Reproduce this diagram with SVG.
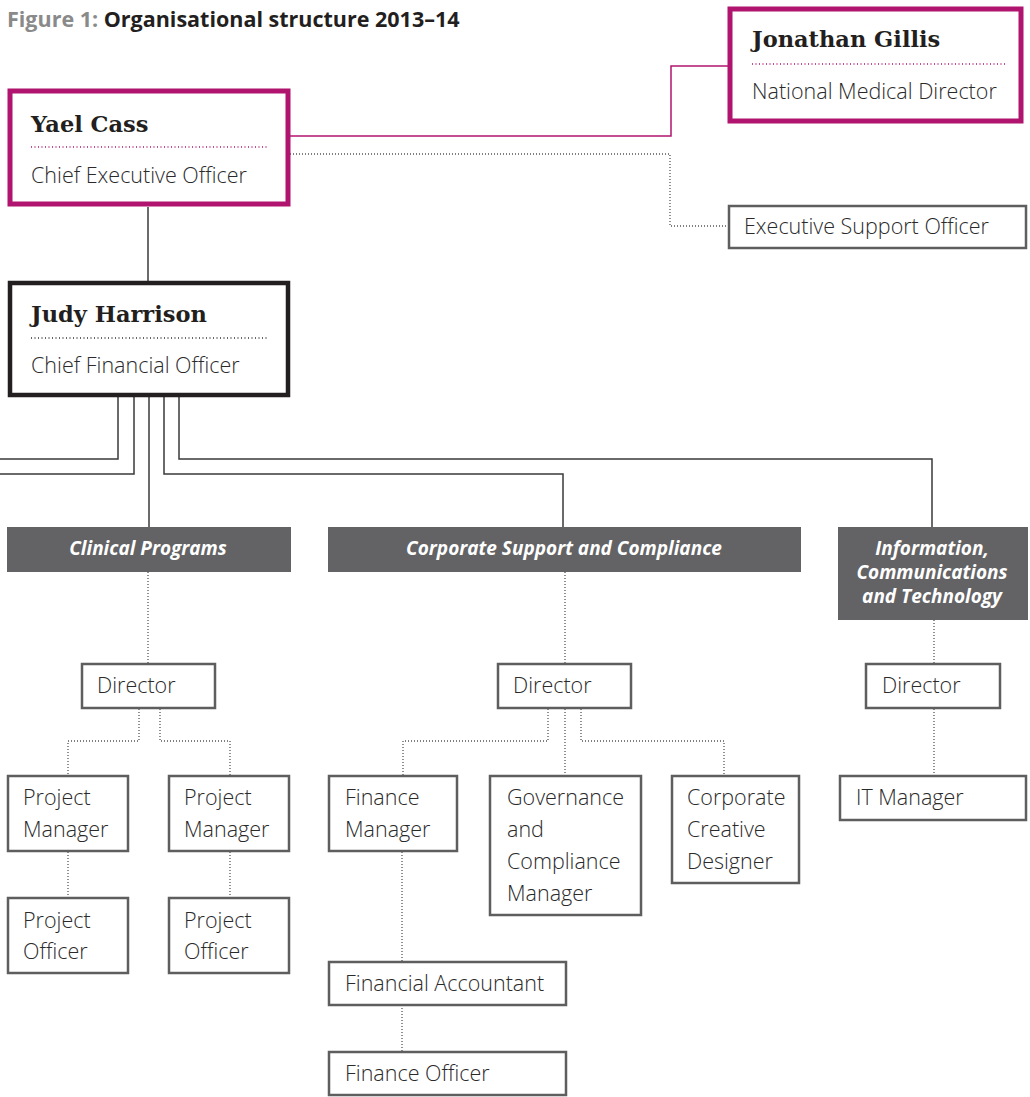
<svg xmlns="http://www.w3.org/2000/svg" width="1030" height="1097" viewBox="0 0 1030 1097">
<style>
  .bg{fill:#ffffff}
  .box{fill:#ffffff;stroke:#5e5e5e;stroke-width:2.5}
  .exec{fill:#ffffff;stroke:#b0146f;stroke-width:5}
  .cfo{fill:#ffffff;stroke:#231f20;stroke-width:4.5}
  .hdr{fill:#636365}
  .name{font-family:"DejaVu Serif","Liberation Serif",serif;font-weight:bold;font-size:22.5px;fill:#231f20}
  .role{font-family:"Open Sans","Noto Sans","Liberation Sans",sans-serif;font-weight:300;font-size:21.5px;fill:#2a2a2a}
  .htxt{font-family:"Open Sans","Noto Sans","Liberation Sans",sans-serif;font-weight:bold;font-style:italic;font-size:19px;fill:#ffffff;text-anchor:middle}
  .title{font-family:"Open Sans","Noto Sans","Liberation Sans",sans-serif;font-weight:bold;font-size:21.5px}
  .solid{fill:none;stroke:#3a3a3a;stroke-width:1.5}
  .mag{fill:none;stroke:#b0146f;stroke-width:1.5}
  .dot{fill:none;stroke:#555555;stroke-width:1.3;stroke-dasharray:1 2}
  .mdot{fill:none;stroke:#b0146f;stroke-width:1.3;stroke-dasharray:1 2.5}
  .kdot{fill:none;stroke:#333333;stroke-width:1.3;stroke-dasharray:1 2.5}
</style>
<rect class="bg" x="0" y="0" width="1030" height="1097"/>
<text class="title" x="7" y="27"><tspan fill="#8a8a8a">Figure 1: </tspan><tspan fill="#231f20">Organisational structure 2013–14</tspan></text>

<g id="connectors">
  <path class="mag" d="M290,136 H671 V66 H728"/>
  <path class="dot" d="M290,154 H670 V226 H728"/>
  <path class="solid" d="M148,207 V281"/>
  <path class="solid" d="M118,397 V459 H0"/>
  <path class="solid" d="M134,397 V474 H0"/>
  <path class="solid" d="M149,397 V527"/>
  <path class="solid" d="M164,397 V474 H563 V527"/>
  <path class="solid" d="M179,397 V459 H932 V527"/>
  <path class="dot" d="M148,572 V663"/>
  <path class="dot" d="M139,709 V741 H68 V775"/>
  <path class="dot" d="M160,709 V741 H230 V775"/>
  <path class="dot" d="M68,852 V897"/>
  <path class="dot" d="M230,852 V897"/>
  <path class="dot" d="M565,572 V663"/>
  <path class="dot" d="M548,709 V741 H403 V775"/>
  <path class="dot" d="M565,709 V775"/>
  <path class="dot" d="M581,709 V741 H724 V775"/>
  <path class="dot" d="M402,852 V961"/>
  <path class="dot" d="M402,1005 V1051"/>
  <path class="dot" d="M934,620 V663"/>
  <path class="dot" d="M934,709 V775"/>
</g>

<g id="yael-cass">
  <rect class="exec" x="10" y="91" width="278" height="113"/>
  <text class="name" x="31" y="132">Yael Cass</text>
  <line class="mdot" x1="31" y1="147" x2="268" y2="147"/>
  <text class="role" x="31" y="183">Chief Executive Officer</text>
</g>
<g id="jonathan-gillis">
  <rect class="exec" x="730" y="9" width="291" height="112"/>
  <text class="name" x="752" y="47">Jonathan Gillis</text>
  <line class="mdot" x1="752" y1="64" x2="1005" y2="64"/>
  <text class="role" x="752" y="99">National Medical Director</text>
</g>
<g id="executive-support-officer">
  <rect class="box" x="729" y="206" width="297" height="42"/>
  <text class="role" x="744" y="234">Executive Support Officer</text>
</g>
<g id="judy-harrison">
  <rect class="cfo" x="10" y="283" width="278" height="112"/>
  <text class="name" x="31" y="322">Judy Harrison</text>
  <line class="kdot" x1="31" y1="338" x2="268" y2="338"/>
  <text class="role" x="31" y="373">Chief Financial Officer</text>
</g>

<g id="clinical-programs">
  <rect class="hdr" x="7" y="527" width="284" height="45"/>
  <text class="htxt" x="148" y="555">Clinical Programs</text>
</g>
<g id="corporate-support">
  <rect class="hdr" x="328" y="527" width="473" height="45"/>
  <text class="htxt" x="564" y="555">Corporate Support and Compliance</text>
</g>
<g id="ict">
  <rect class="hdr" x="838" y="527" width="190" height="93"/>
  <text class="htxt" x="932" y="555">Information,</text>
  <text class="htxt" x="932" y="579">Communications</text>
  <text class="htxt" x="932" y="603">and Technology</text>
</g>

<g id="cp-director">
  <rect class="box" x="82" y="664" width="133" height="44"/>
  <text class="role" x="97" y="693">Director</text>
</g>
<g id="cp-pm1">
  <rect class="box" x="8" y="776" width="120" height="75"/>
  <text class="role" x="23" y="805">Project</text>
  <text class="role" x="23" y="837">Manager</text>
</g>
<g id="cp-pm2">
  <rect class="box" x="169" y="776" width="120" height="75"/>
  <text class="role" x="184" y="805">Project</text>
  <text class="role" x="184" y="837">Manager</text>
</g>
<g id="cp-po1">
  <rect class="box" x="8" y="898" width="120" height="75"/>
  <text class="role" x="23" y="928">Project</text>
  <text class="role" x="23" y="959">Officer</text>
</g>
<g id="cp-po2">
  <rect class="box" x="169" y="898" width="120" height="75"/>
  <text class="role" x="184" y="928">Project</text>
  <text class="role" x="184" y="959">Officer</text>
</g>

<g id="csc-director">
  <rect class="box" x="498" y="664" width="133" height="44"/>
  <text class="role" x="513" y="693">Director</text>
</g>
<g id="finance-manager">
  <rect class="box" x="329" y="776" width="128" height="75"/>
  <text class="role" x="345" y="805">Finance</text>
  <text class="role" x="345" y="837">Manager</text>
</g>
<g id="governance-manager">
  <rect class="box" x="490" y="776" width="151" height="139"/>
  <text class="role" x="507" y="805">Governance</text>
  <text class="role" x="507" y="837">and</text>
  <text class="role" x="507" y="869">Compliance</text>
  <text class="role" x="507" y="901">Manager</text>
</g>
<g id="creative-designer">
  <rect class="box" x="672" y="776" width="127" height="107"/>
  <text class="role" x="687" y="805">Corporate</text>
  <text class="role" x="687" y="837">Creative</text>
  <text class="role" x="687" y="869">Designer</text>
</g>
<g id="financial-accountant">
  <rect class="box" x="329" y="962" width="237" height="43"/>
  <text class="role" x="345" y="991">Financial Accountant</text>
</g>
<g id="finance-officer">
  <rect class="box" x="329" y="1052" width="237" height="43"/>
  <text class="role" x="345" y="1081">Finance Officer</text>
</g>

<g id="ict-director">
  <rect class="box" x="866" y="664" width="134" height="44"/>
  <text class="role" x="882" y="693">Director</text>
</g>
<g id="it-manager">
  <rect class="box" x="840" y="776" width="186" height="44"/>
  <text class="role" x="856" y="805">IT Manager</text>
</g>
</svg>
